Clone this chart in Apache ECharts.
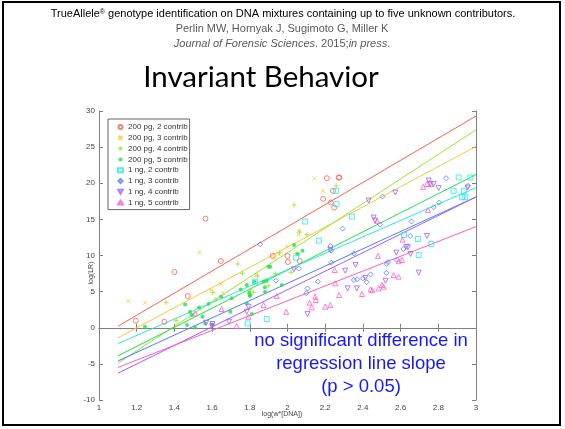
<!DOCTYPE html>
<html>
<head>
<meta charset="utf-8">
<script src="https://cdn.jsdelivr.net/npm/echarts@6/dist/echarts.min.js"></script>
<style>
  html, body { margin: 0; padding: 0; background: #fff; }
  #chart { width: 565px; height: 429px; }
</style>
</head>
<body>
<div id="chart"></div>
<script>
// series names (legend order)
let series_names = ["200 pg, 2 contrib", "200 pg, 3 contrib", "200 pg, 4 contrib", "200 pg, 5 contrib",
                    "1 ng, 2 contrib", "1 ng, 3 contrib", "1 ng, 4 contrib", "1 ng, 5 contrib"];

let series_colors = ["#f5604f", "#f2c83c", "#9ee02c", "#1fe04a", "#22eaea", "#4d7dff", "#a05cff", "#ff5cc0"];

// points, [log(w*[DNA]), log(LR)]
let pg200_2 = [[1.195,0.97],[1.347,0.83],[1.40,7.72],[1.471,4.39],[1.565,15.11],[1.646,9.24],[1.922,9.94],
               [2.0,9.94],[2.002,9.10],[2.065,9.24],[2.189,17.84],[2.209,20.70],[2.230,17.33],[2.241,18.95],
               [2.248,16.64],[2.271,20.79],[2.275,20.79]];
let pg200_3 = [[1.156,3.70],[1.244,3.47],[1.409,1.16],[1.533,10.44],[1.595,5.2],[1.648,6.05],[1.657,4.85],
               [1.834,7.30],[1.952,10.21],[1.996,11.23],[2.035,8.23],[2.062,13.40],[2.143,20.70],[2.188,18.95],
               [1.93,9.6],[2.06,12.9]];
let pg200_4 = [[1.356,3.47],[1.409,0.97],[1.604,4.85],[1.62,3.9],[1.736,8.83],[1.761,7.53],[1.802,5.22],
               [1.842,7.16],[1.935,7.53],[1.958,10.40],[2.019,7.67],[2.035,17.0],[2.046,10.3],[2.064,13.26],
               [2.103,12.89],[2.258,19.64],[1.82,4.9],[1.90,5.8]];
let pg200_5 = [[1.244,0.14],[1.457,3.23],[1.483,2.22],[1.492,1.76],[1.510,0.05],[1.467,0.37],[1.531,2.82],
               [1.549,1.52],[1.581,3.28],[1.563,0.6],[1.648,4.30],[1.697,2.22],[1.704,4.07],[1.752,5.31],
               [1.784,5.92],[1.784,3.37],[1.796,4.85],[1.802,4.53],[1.811,1.89],[1.825,6.38],[1.873,6.38],
               [1.881,4.99],[1.890,6.47],[1.899,8.46],[1.908,8.46],[1.970,5.92],[2.035,11.46],[2.055,10.21],
               [2.080,10.67],[1.60,0.45],[1.88,5.6],[1.80,4.4]];
let ng1_2 = [[1.789,0.60],[1.828,6.38],[1.890,1.20],[2.046,9.70],[2.094,14.70],[2.166,12.06],[2.260,17.10],
             [2.342,15.39],[2.618,12.85],[2.692,12.29],[2.696,10.07],[2.763,11.60],[2.908,20.80],[2.881,18.95],
             [2.936,18.95],[2.943,18.07],[2.926,18.07],[2.970,20.80],[2.258,18.95]];
let ng1_3 = [[1.855,11.55],[1.938,6.52],[2.106,5.45],[2.161,6.38],[2.228,11.32],[2.232,10.67],[2.232,9.01],
             [2.292,13.72],[2.352,10.30],[2.352,6.61],[2.400,6.84],[2.441,7.39],[2.492,14.28],[2.504,18.16],
             [2.527,8.83],[2.581,9.38],[2.651,12.71],[2.658,14.70],[2.775,16.68],[2.805,17.33],[2.841,20.70],
             [2.958,19.64],[2.10,4.8],[2.37,6.7],[2.533,9.1],[2.525,7.6],[2.615,10.9],[2.06,8.2],[2.42,6.3]];
let ng1_4 = [[1.568,0.69],[1.60,0.2],[1.602,0.51],[1.690,0.83],[1.784,2.22],[1.793,2.91],[2.106,1.89],
             [2.034,8.09],[2.227,10.77],[2.306,7.90],[2.361,8.69],[2.368,5.45],[2.319,5.45],[2.430,17.61],
             [2.457,15.25],[2.465,14.83],[2.572,18.72],[2.577,10.40],[2.639,11.14],[2.740,12.71],[2.749,20.38],
             [2.757,19.92],[2.775,19.92],[2.802,19.32],[2.696,7.62],[2.653,10.21],[2.52,6.5],[2.413,6.9],
             [2.955,19.4],[2.63,11.2]];
let ng1_5 = [[1.51,1.99],[1.65,2.6],[1.731,0.23],[1.793,1.52],[1.873,3.14],[1.943,4.39],[1.993,2.22],
             [2.147,4.30],[2.150,3.84],[2.200,2.91],[2.227,3.14],[2.250,7.99],[2.253,6.15],[2.274,4.53],
             [2.395,4.67],[2.441,5.31],[2.480,9.94],[2.483,5.45],[2.501,5.92],[2.510,5.68],[2.563,7.30],
             [2.589,7.07],[2.607,9.38],[2.745,16.31],[2.117,3.47],[2.129,2.82],[2.45,5.2],[2.59,9.2],
             [2.475,14.8],[2.61,12.2],[2.74,19.9],[2.76,19.9],[2.72,19.5]];

// regression lines: end points at x = 1.1 and x = 3
let line_x = [1.1, 3];
let line_y = [[0.2, 29.3], [-1.4, 25.1], [-4.9, 27.4], [-3.9, 21.2],
              [-2.2, 19.4], [-4.6, 18.1], [-6.3, 18.1], [-5.5, 14.0]];

let point_sets = [pg200_2, pg200_3, pg200_4, pg200_5, ng1_2, ng1_3, ng1_4, ng1_5];

// matlab-ish markers
let markers = ["circle", "path://M0,0L10,10M10,0L0,10", "path://M5,0L5,10M0,5L10,5", "circle",
               "rect", "path://M5,0L10,5L5,10L0,5Z", "path://M0,0L10,0L5,9Z", "triangle"];
let marker_sizes = [5, 4, 5, 4, 5, 5, 5, 5];

let chart = echarts.init(document.getElementById("chart"));

let series = [];
for (let i = 0; i < series_names.length; i++) {
    series.push({
        type: "line",
        name: "fit" + i,
        data: [[line_x[0], line_y[i][0]], [line_x[1], line_y[i][1]]],
        showSymbol: false,
        silent: true,
        lineStyle: { color: series_colors[i], width: 1 },
        z: 2
    });
}
for (let i = 0; i < series_names.length; i++) {
    let filled = (i === 3);
    series.push({
        type: "scatter",
        name: series_names[i],
        data: point_sets[i],
        symbol: markers[i],
        symbolSize: marker_sizes[i],
        itemStyle: filled
            ? { color: series_colors[i] }
            : { color: "rgba(0,0,0,0)", borderColor: series_colors[i], borderWidth: 1 },
        z: 3
    });
}

let gray = "#7f7f7f";
let label_font = { fontSize: 8, color: "#444", fontFamily: "Liberation Sans" };

let option = {
    animation: false,
    grid: { left: 99, top: 111, width: 377, height: 289 },
    legend: {
        data: series_names,
        orient: "vertical",
        left: 108, top: 119,
        padding: [3, 2, 2, 9],
        itemWidth: 5, itemHeight: 4, itemGap: 0.8,
        borderColor: "#666", borderWidth: 1,
        backgroundColor: "#fff",
        textStyle: { fontSize: 8, lineHeight: 10, color: "#333", fontFamily: "Liberation Sans" }
    },
    xAxis: [
        {
            type: "value", min: 1, max: 3, interval: 0.2, position: "bottom",
            axisLine: { lineStyle: { color: gray } },
            axisTick: { inside: true, length: 4, lineStyle: { color: gray } },
            axisLabel: Object.assign({ margin: 4 }, label_font),
            splitLine: { show: false }
        },
        {
            type: "value", min: 1, max: 3, interval: 0.2, position: "top",
            axisLine: { lineStyle: { color: gray } },
            axisTick: { inside: true, length: 4, lineStyle: { color: gray } },
            axisLabel: { show: false },
            splitLine: { show: false }
        }
    ],
    yAxis: [
        {
            type: "value", min: -10, max: 30, interval: 5, position: "left",
            axisLine: { show: true, lineStyle: { color: gray } },
            axisTick: { show: true, inside: true, length: 4, lineStyle: { color: gray } },
            axisLabel: Object.assign({ margin: 4 }, label_font),
            splitLine: { show: false }
        },
        {
            type: "value", min: -10, max: 30, interval: 5, position: "right",
            axisLine: { show: true, lineStyle: { color: gray } },
            axisTick: { show: true, inside: true, length: 4, lineStyle: { color: gray } },
            axisLabel: { show: false },
            splitLine: { show: false }
        }
    ],
    series: series,
    graphic: [
        {
            type: "rect", silent: true,
            shape: { x: 3, y: 2, width: 557, height: 423 },
            style: { fill: "none", stroke: "#000", lineWidth: 2 }
        },
        {
            type: "text", x: 283, y: 14,
            style: {
                text: "{n|TrueAllele}{s|®}{n| genotype identification on DNA mixtures containing up to five unknown contributors.}",
                align: "center", verticalAlign: "middle",
                rich: {
                    n: { fontSize: 11, fontFamily: "Liberation Sans", fill: "#000" },
                    s: { fontSize: 7, fontFamily: "Liberation Sans", fill: "#000", verticalAlign: "top", padding: [0, 0, 4, 0] }
                }
            }
        },
        {
            type: "text", x: 282, y: 29,
            style: {
                text: "Perlin MW, Hornyak J, Sugimoto G, Miller K",
                align: "center", verticalAlign: "middle",
                fontSize: 11, fontFamily: "Liberation Sans", fill: "#595959"
            }
        },
        {
            type: "text", x: 282, y: 44,
            style: {
                text: "{i|Journal of Forensic Sciences}{n|. 2015;}{i|in press}{n|.}",
                align: "center", verticalAlign: "middle",
                rich: {
                    n: { fontSize: 11, fontFamily: "Liberation Sans", fill: "#595959" },
                    i: { fontSize: 11, fontFamily: "Liberation Sans", fontStyle: "italic", fill: "#595959" }
                }
            }
        },
        {
            type: "text", x: 261, y: 77,
            style: {
                text: "Invariant Behavior",
                align: "center", verticalAlign: "middle",
                fontSize: 29.5, fontFamily: "Lato", fill: "#000"
            }
        },
        {
            // axis titles, placed where matlab put them
            type: "text", x: 282, y: 414,
            style: {
                text: "log(w*[DNA])", align: "center", verticalAlign: "middle",
                fontSize: 7, fontFamily: "Liberation Sans", fill: "#444"
            }
        },
        {
            type: "text", x: 91, y: 273, rotation: Math.PI / 2,
            style: {
                text: "log(LR)", align: "center", verticalAlign: "middle",
                fontSize: 7, fontFamily: "Liberation Sans", fill: "#444"
            }
        },
        {
            type: "text", x: 361, y: 364, z: 10,
            style: {
                text: "no significant difference in\nregression line slope\n(p > 0.05)",
                align: "center", verticalAlign: "middle", lineHeight: 23,
                fontSize: 18.5, fontFamily: "Liberation Sans", fill: "#1717ff"
            }
        }
    ]
};

chart.setOption(option);
</script>
</body>
</html>
